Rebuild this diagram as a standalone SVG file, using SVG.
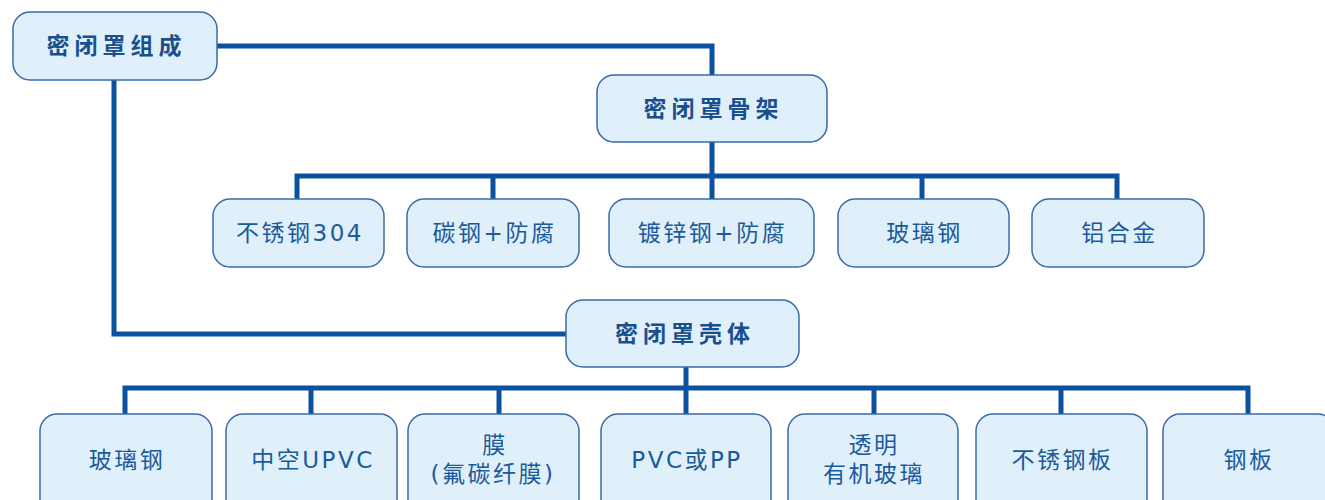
<svg xmlns="http://www.w3.org/2000/svg" width="1325" height="500" viewBox="0 0 1325 500">
<style>
.box{fill:#e0f0fa;stroke:#3d6aa8;stroke-width:1.5}
.ln{fill:none;stroke:#0a52a0;stroke-width:5;stroke-linejoin:miter}
.h{font-family:"DejaVu Sans","Noto Sans CJK SC",sans-serif;font-size:23px;font-weight:bold;fill:#1a4f8e;letter-spacing:5px;text-anchor:middle;dominant-baseline:central}
.t{font-family:"DejaVu Sans","Noto Sans CJK SC",sans-serif;font-size:23px;fill:#1b5a9c;letter-spacing:2.5px;text-anchor:middle;dominant-baseline:central}
</style>
<rect width="1325" height="500" fill="#ffffff"/>
<g id="connectors">
<path class="ln" d="M217,46 H712 V75"/>
<path class="ln" d="M114,80 V334 H566"/>
<path class="ln" d="M712,142 V199"/>
<path class="ln" d="M297,199 V176 H1117 V199"/>
<path class="ln" d="M493,176 V199 M922,176 V199"/>
<path class="ln" d="M686,367 V414"/>
<path class="ln" d="M125,414 V388 H1248 V414"/>
<path class="ln" d="M311,388 V414 M499,388 V414 M874,388 V414 M1061,388 V414"/>
</g>
<g id="root"><rect class="box" x="13" y="12" width="204" height="68" rx="17"/><text class="h" x="116.5" y="46">密闭罩组成</text></g>
<g id="skeleton"><rect class="box" x="597" y="75" width="230" height="67" rx="17"/><text class="h" x="713.5" y="108.5">密闭罩骨架</text></g>
<g id="s1"><rect class="box" x="213" y="199" width="171" height="68" rx="17"/><text class="t" x="300" y="233">不锈钢304</text></g>
<g id="s2"><rect class="box" x="407" y="199" width="172" height="68" rx="17"/><text class="t" x="494.5" y="233">碳钢+防腐</text></g>
<g id="s3"><rect class="box" x="609" y="199" width="205" height="68" rx="17"/><text class="t" x="712.5" y="233">镀锌钢+防腐</text></g>
<g id="s4"><rect class="box" x="838" y="199" width="171" height="68" rx="17"/><text class="t" x="924.5" y="233">玻璃钢</text></g>
<g id="s5"><rect class="box" x="1032" y="199" width="172" height="68" rx="17"/><text class="t" x="1119.5" y="233">铝合金</text></g>
<g id="shell"><rect class="box" x="566" y="300" width="233" height="67" rx="17"/><text class="h" x="685" y="334">密闭罩壳体</text></g>
<g id="c1"><rect class="box" x="40" y="414" width="172" height="110" rx="17"/><text class="t" x="127" y="460">玻璃钢</text></g>
<g id="c2"><rect class="box" x="226" y="414" width="171" height="110" rx="17"/><text class="t" x="313" y="460">中空UPVC</text></g>
<g id="c3"><rect class="box" x="408" y="414" width="171" height="110" rx="17"/><text class="t" x="495" y="445">膜</text><text class="t" x="493" y="474">(氟碳纤膜)</text></g>
<g id="c4"><rect class="box" x="601" y="414" width="170" height="110" rx="17"/><text class="t" x="687" y="460">PVC或PP</text></g>
<g id="c5"><rect class="box" x="788" y="414" width="170" height="110" rx="17"/><text class="t" x="874" y="445">透明</text><text class="t" x="874" y="474">有机玻璃</text></g>
<g id="c6"><rect class="box" x="976" y="414" width="171" height="110" rx="17"/><text class="t" x="1062.5" y="460">不锈钢板</text></g>
<g id="c7"><rect class="box" x="1163" y="414" width="172" height="110" rx="17"/><text class="t" x="1249" y="460">钢板</text></g>
</svg>
